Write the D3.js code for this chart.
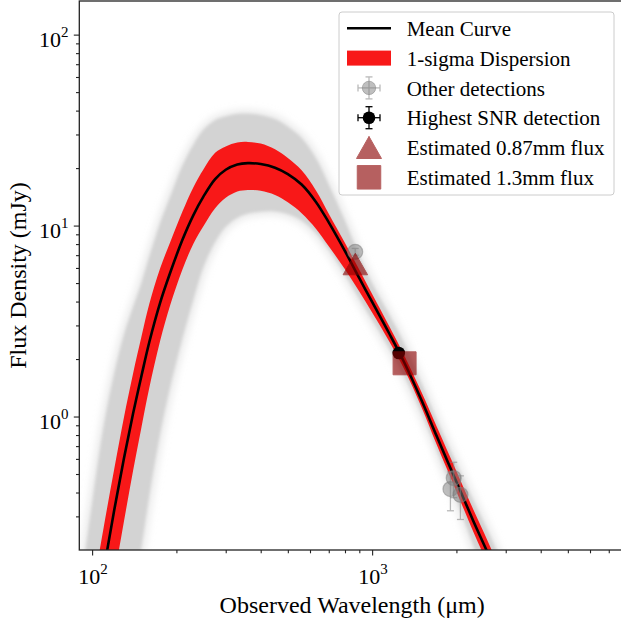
<!DOCTYPE html>
<html><head><meta charset="utf-8">
<script src="https://cdn.jsdelivr.net/npm/d3@7"></script>
<style>body{margin:0;background:#fff}</style>
</head><body>
<svg id="chart" width="621" height="625"></svg>
<script>
// ---- data: wavelength grid (micron) and flux densities (mJy) ----
const lambdaGrid  = [90,100,110,120,130,140,150,160,175,190,210,230,250,275,300,330,360,400,450,500,560,630,700,800,900,1000,1150,1300,1500,1700,2000,2300,2600,3000];
const meanFlux    = [0.0254,0.0678,0.157,0.325,0.606,1.034,1.63,2.45,3.95,5.66,8.40,11.35,14.21,17.5,19.6,20.9,21.23,21.0,20.1,18.6,16.4,13.3,10.4,7.35,5.3,3.98,2.73,1.93,1.22,0.79,0.455,0.283,0.19,0.116];
const sigmaHigh   = [0.0442,0.1165,0.2634,0.5323,0.9947,1.677,2.615,3.884,5.977,8.178,11.81,15.89,19.75,24.04,25.96,27.23,27.42,26.87,25.07,22.62,19.49,15.27,11.53,8.094,5.866,4.384,2.98,2.102,1.344,0.8862,0.5176,0.3249,0.2192,0.1344];
const sigmaLow    = [0.01012,0.02828,0.06852,0.145,0.2836,0.5183,0.8761,1.41,2.492,3.825,5.879,8.035,9.945,12.33,13.97,15.07,15.35,15.21,14.46,13.23,11.61,9.636,7.798,5.905,4.511,3.507,2.479,1.777,1.123,0.714,0.4055,0.2487,0.1655,0.1006];
const samplesHigh = [0.1161,0.3559,0.903,1.703,2.708,3.754,5.04,6.906,10.39,14.21,20.62,26.61,31.81,35.73,37.35,38.47,38.64,37.95,36.15,33.07,28.83,22.59,16.48,10.62,6.988,5.01,3.438,2.43,1.501,0.9718,0.5728,0.3645,0.2505,0.1547];
const samplesLow  = [0.00285,0.0076,0.0176,0.03726,0.07123,0.116,0.2053,0.3796,0.8065,1.421,2.537,4.074,6.061,8.185,9.824,10.97,11.53,11.81,11.84,11.47,10.59,9.097,7.447,5.511,4.115,3.198,2.271,1.635,1.038,0.6646,0.3656,0.2099,0.13,0.0766];

const otherLambda = [870, 1956, 1904, 2067];
const otherFlux   = [7.29, 0.476, 0.417, 0.389];
const otherErr    = [0.3, 0.1, 0.096, 0.1];
const bestLambda = [1245], bestFlux = [2.15], bestErr = [0.1];
const est087Lambda = [871], est087Flux = [6.29], est087Err = [0.5];
const est13Lambda = [1306], est13Flux = [1.90], est13Err = [0.12];

const xMajor = [100, 1000], xMajorExp = ["2","3"];
const xMinor = [200,300,400,500,600,700,800,900,2000,3000,4000,5000,6000,7000];
const yMajor = [1, 10, 100], yMajorExp = ["0","1","2"];
const yMinor = [0.3,0.4,0.5,0.6,0.7,0.8,0.9,2,3,4,5,6,7,8,9,20,30,40,50,60,70,80,90];
const legendLabels = ["Mean Curve","1-sigma Dispersion","Other detections","Highest SNR detection","Estimated 0.87mm flux","Estimated 1.3mm flux"];

// ---- layout ----
const L = 79.3, R = 625, T = 1, B = 550;
const FONT = "'Liberation Serif','Times New Roman',serif";
const x = d3.scaleLog().domain([90, 8000]).range([L, R]);
const y = d3.scaleLog().domain([0.2, 150]).range([B, T]);
const svg = d3.select("#chart");

const defs = svg.append("defs");
defs.append("clipPath").attr("id","clip").append("rect")
  .attr("x",L).attr("y",T).attr("width",R-L).attr("height",B-T);
defs.append("filter").attr("id","soft").attr("x","-10%").attr("y","-10%").attr("width","120%").attr("height","120%")
  .append("feGaussianBlur").attr("stdDeviation",1.4);
defs.append("filter").attr("id","halo").attr("x","-10%").attr("y","-10%").attr("width","120%").attr("height","120%")
  .append("feGaussianBlur").attr("stdDeviation",3.5);

const line = d3.line().x(d=>x(d[0])).y(d=>y(d[1])).curve(d3.curveCatmullRom.alpha(0.5));
const pts = arr => lambdaGrid.map((l,i)=>[l, arr[i]]);
function band(hi, lo){
  return line(pts(hi)) + line(pts(lo).reverse()).replace(/^M/,"L") + "Z";
}
const g = svg.append("g").attr("clip-path","url(#clip)");
g.append("path").attr("d", band(samplesHigh, samplesLow))
  .attr("fill","none").attr("stroke","#d8d8d8").attr("stroke-width",9).attr("stroke-opacity",0.45).attr("filter","url(#halo)");
g.append("path").attr("d", band(samplesHigh, samplesLow))
  .attr("fill","#d3d3d3").attr("filter","url(#soft)");
g.append("path").attr("d", band(sigmaHigh, sigmaLow)).attr("fill","#f81818");
g.append("path").attr("d", line(pts(meanFlux))).attr("fill","none").attr("stroke","#000").attr("stroke-width",2.6);

// ---- points ----
function errbar(sel, lam, f, err, color, opac, cap){
  lam.forEach((l,i)=>{
    const gx = x(l);
    const y1 = y(f[i]+err[i]), y2 = y(Math.max(f[i]-err[i],0.01));
    const eg = sel.append("g").attr("opacity",opac);
    eg.append("line").attr("x1",gx).attr("x2",gx).attr("y1",y1).attr("y2",y2).attr("stroke",color).attr("stroke-width",1.3);
    eg.append("line").attr("x1",gx-cap).attr("x2",gx+cap).attr("y1",y1).attr("y2",y1).attr("stroke",color).attr("stroke-width",1.3);
    eg.append("line").attr("x1",gx-cap).attr("x2",gx+cap).attr("y1",y2).attr("y2",y2).attr("stroke",color).attr("stroke-width",1.3);
  });
}
const pg = svg.append("g");
otherLambda.forEach((l,i)=>{
  errbar(pg,[l],[otherFlux[i]],[otherErr[i]],"#808080",0.55,3.5);
  pg.append("circle").attr("cx",x(l)).attr("cy",y(otherFlux[i])).attr("r",7.5)
    .attr("fill","#808080").attr("fill-opacity",0.5).attr("stroke","#808080").attr("stroke-opacity",0.5).attr("stroke-width",1.2);
});
errbar(pg,bestLambda,bestFlux,bestErr,"#000",1,3.5);
pg.selectAll(".best").data(bestLambda).join("circle").attr("cx",d=>x(d)).attr("cy",(d,i)=>y(bestFlux[i])).attr("r",6.3).attr("fill","#000");

function triPath(cx,cy,w,h){return `M${cx},${cy-h/2}L${cx-w/2},${cy+h/2}L${cx+w/2},${cy+h/2}Z`;}
function sqPath(cx,cy,s){return `M${cx-s/2},${cy-s/2}h${s}v${s}h${-s}Z`;}
est087Lambda.forEach((l,i)=>{
  const mg = pg.append("g").attr("opacity",0.62);
  mg.append("path").attr("d",triPath(x(l),y(est087Flux[i]),24.5,21.5)).attr("fill","#8b0000").attr("stroke","#8b0000").attr("stroke-width",1);
  mg.append("line").attr("x1",x(l)).attr("x2",x(l)).attr("y1",y(est087Flux[i]+est087Err[i])).attr("y2",y(est087Flux[i]-est087Err[i])).attr("stroke","#8b0000").attr("stroke-width",1.3);
});
est13Lambda.forEach((l,i)=>{
  const mg = pg.append("g").attr("opacity",0.62);
  mg.append("path").attr("d",sqPath(x(l),y(est13Flux[i]),23)).attr("fill","#8b0000").attr("stroke","#8b0000").attr("stroke-width",1);
  mg.append("line").attr("x1",x(l)).attr("x2",x(l)).attr("y1",y(est13Flux[i]+est13Err[i])).attr("y2",y(est13Flux[i]-est13Err[i])).attr("stroke","#8b0000").attr("stroke-width",1.3);
});

// ---- axes ----
const AX = "#222";
const xAxisMajor = d3.axisBottom(x).tickValues(xMajor).tickSize(5.5).tickSizeOuter(0).tickFormat("");
const xAxisMinor = d3.axisBottom(x).tickValues(xMinor).tickSize(3.3).tickSizeOuter(0).tickFormat("");
const yAxisMajor = d3.axisLeft(y).tickValues(yMajor).tickSize(5.5).tickSizeOuter(0).tickFormat("");
const yAxisMinor = d3.axisLeft(y).tickValues(yMinor).tickSize(3.3).tickSizeOuter(0).tickFormat("");
[[xAxisMinor,"x"],[xAxisMajor,"x"],[yAxisMinor,"y"],[yAxisMajor,"y"]].forEach(([ax,k])=>{
  const a = svg.append("g").attr("transform", k==="x" ? `translate(0,${B})` : `translate(${L},0)`).call(ax);
  a.select(".domain").remove();
  a.selectAll("line").attr("stroke",AX).attr("stroke-width",1.1);
});
svg.append("rect").attr("x",L).attr("y",T).attr("width",R-L).attr("height",B-T)
  .attr("fill","none").attr("stroke",AX).attr("stroke-width",1.3);

xMajor.forEach((v,i)=>{
  const t = svg.append("text").attr("x",x(v)+1).attr("y",584).attr("text-anchor","middle")
    .attr("font-family",FONT).attr("font-size",22).attr("fill","#000");
  t.append("tspan").text("10");
  t.append("tspan").attr("dy",-10).attr("font-size",15).text(xMajorExp[i]);
});
yMajor.forEach((v,i)=>{
  const t = svg.append("text").attr("x",68.5).attr("y",y(v)+12).attr("text-anchor","end")
    .attr("font-family",FONT).attr("font-size",22).attr("fill","#000");
  t.append("tspan").text("10");
  t.append("tspan").attr("dy",-10).attr("font-size",15).text(yMajorExp[i]);
});
svg.append("text").attr("x",(L+R)/2).attr("y",612.5).attr("text-anchor","middle")
  .attr("font-family",FONT).attr("font-size",24).text("Observed Wavelength (μm)");
svg.append("text").attr("transform",`translate(25.5,${(T+B)/2}) rotate(-90)`).attr("text-anchor","middle")
  .attr("font-family",FONT).attr("font-size",24).text("Flux Density (mJy)");

// ---- legend ----
const lg = svg.append("g");
lg.append("rect").attr("x",339).attr("y",12).attr("width",275).attr("height",183).attr("rx",3)
  .attr("fill","#fff").attr("fill-opacity",0.8).attr("stroke","#cccccc").attr("stroke-width",1);
const rowY = i => 28.3 + i*29.8;
const hx = 369;
legendLabels.forEach((s,i)=>{
  lg.append("text").attr("x",406.7).attr("y",rowY(i)+7.6).attr("font-family",FONT).attr("font-size",21).text(s);
});
lg.append("line").attr("x1",347).attr("x2",391).attr("y1",rowY(0)).attr("y2",rowY(0)).attr("stroke","#000").attr("stroke-width",2.6);
lg.append("rect").attr("x",347).attr("y",rowY(1)-7.5).attr("width",44).attr("height",15).attr("fill","#f81818");
function legErr(cy,color,op){
  const e = lg.append("g").attr("opacity",op);
  const seg = (x1,y1,x2,y2)=>e.append("line").attr("x1",x1).attr("y1",y1).attr("x2",x2).attr("y2",y2).attr("stroke",color).attr("stroke-width",1.3);
  seg(hx,cy-11,hx,cy+11); seg(hx-11,cy,hx+11,cy);
  seg(hx-3.5,cy-11,hx+3.5,cy-11); seg(hx-3.5,cy+11,hx+3.5,cy+11);
  seg(hx-11,cy-3.5,hx-11,cy+3.5); seg(hx+11,cy-3.5,hx+11,cy+3.5);
}
legErr(rowY(2),"#808080",0.55);
lg.append("circle").attr("cx",hx).attr("cy",rowY(2)).attr("r",6.7).attr("fill","#808080").attr("fill-opacity",0.5).attr("stroke","#808080").attr("stroke-opacity",0.5);
legErr(rowY(3),"#000",1);
lg.append("circle").attr("cx",hx).attr("cy",rowY(3)).attr("r",6.3).attr("fill","#000");
const lt = lg.append("g").attr("opacity",0.62);
lt.append("path").attr("d",triPath(hx,rowY(4),25,22)).attr("fill","#8b0000").attr("stroke","#8b0000");
lt.append("line").attr("x1",hx).attr("x2",hx).attr("y1",rowY(4)-11).attr("y2",rowY(4)+11).attr("stroke","#8b0000").attr("stroke-width",1.3);
const ls = lg.append("g").attr("opacity",0.62);
ls.append("path").attr("d",sqPath(hx,rowY(5),23.5)).attr("fill","#8b0000").attr("stroke","#8b0000");
ls.append("line").attr("x1",hx).attr("x2",hx).attr("y1",rowY(5)-9).attr("y2",rowY(5)+9).attr("stroke","#8b0000").attr("stroke-width",1.3);
ls.append("line").attr("x1",hx-3.5).attr("x2",hx+3.5).attr("y1",rowY(5)-9).attr("y2",rowY(5)-9).attr("stroke","#8b0000").attr("stroke-width",1.3);
ls.append("line").attr("x1",hx-3.5).attr("x2",hx+3.5).attr("y1",rowY(5)+9).attr("y2",rowY(5)+9).attr("stroke","#8b0000").attr("stroke-width",1.3);
</script>
</body></html>
